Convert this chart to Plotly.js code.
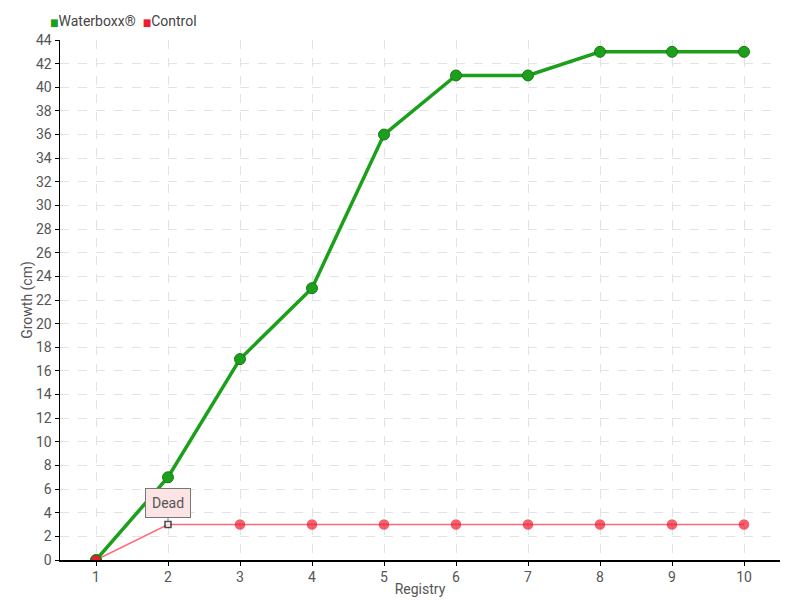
<!DOCTYPE html>
<html>
<head>
<meta charset="utf-8">
<script src="https://cdn.plot.ly/plotly-3.0.1.min.js"></script>
<style>html,body{margin:0;padding:0;background:#fff;}#chart{width:800px;height:600px;}</style>
</head>
<body>
<div id="chart"></div>
<script>
const registry = [1,2,3,4,5,6,7,8,9,10];
const waterboxx = [0,7,17,23,36,41,41,43,43,43];
const control = [0,3,3,3,3,3,3,3,3,3];
const yTicks = [0,2,4,6,8,10,12,14,16,18,20,22,24,26,28,30,32,34,36,38,40,42,44];
const seriesNames = ['Waterboxx®', 'Control'];
const deadIndex = 1;

const font = "Roboto, 'DejaVu Sans Condensed', sans-serif";
const green = '#1ca01c', red = '#ee1c2e';
const ctrlSymbols = control.map((v,i)=> i===deadIndex ? 'square' : 'circle');
const ctrlColors = control.map((v,i)=> i===deadIndex ? '#ffffff' : red);
const ctrlLineColors = control.map((v,i)=> i===deadIndex ? '#000000' : red);
const ctrlSizes = control.map((v,i)=> i===deadIndex ? 6 : 9);

const traces = [
  {x: registry, y: control, mode: 'lines+markers', showlegend: false,
   line: {color: '#ff6a7a', width: 1.5},
   marker: {color: ctrlColors, symbol: ctrlSymbols, size: ctrlSizes, line: {color: ctrlLineColors, width: 1.5}}},
  {x: registry, y: waterboxx, mode: 'lines+markers', showlegend: false,
   line: {color: green, width: 3.5},
   marker: {color: green, size: 11, line: {color: '#167a16', width: 1}}},
  {x: registry.slice(0,1), y: control.slice(0,1), mode: 'markers', showlegend: false,
   marker: {color: red, size: 10, line: {color: '#1a7a1a', width: 1}}}
];

const legendText = '<span style="color:' + green + ';font-size:10px">■</span>' + seriesNames[0] +
  '&nbsp;&nbsp;<span style="color:' + red + ';font-size:10px">■</span>' + seriesNames[1];

const layout = {
  width: 800, height: 600,
  margin: {l: 60, r: 20, t: 40, b: 40},
  paper_bgcolor: '#ffffff', plot_bgcolor: '#ffffff',
  font: {family: font, size: 14, color: '#555555'},
  showlegend: false,
  xaxis: {
    range: [0.5, 10.5], tickvals: registry, ticktext: registry.map(String),
    showgrid: true, gridcolor: '#e3e3e3', griddash: 'dash', gridwidth: 1,
    showline: true, linecolor: '#000000', linewidth: 1.5,
    ticks: 'outside', ticklen: 4, tickcolor: '#000000',
    zeroline: false, fixedrange: true, automargin: false,
    title: {text: 'Registry', font: {family: font, size: 14, color: '#555555'}, standoff: 0}
  },
  yaxis: {
    range: [0, 44], tickvals: yTicks, ticktext: yTicks.map(String),
    showgrid: true, gridcolor: '#e3e3e3', griddash: 'dash', gridwidth: 1,
    showline: true, linecolor: '#000000', linewidth: 1.5,
    ticks: 'outside', ticklen: 4, tickcolor: '#000000',
    zeroline: false, fixedrange: true, automargin: false,
    title: {text: 'Growth (cm)', font: {family: font, size: 14, color: '#555555'}, standoff: 0}
  },
  annotations: [{
    x: registry[deadIndex], y: control[deadIndex], xref: 'x', yref: 'y',
    text: 'Dead', showarrow: true, ax: 0, ay: -22, arrowhead: 0, arrowwidth: 1, arrowcolor: '#777777', standoff: 3,
    bgcolor: '#fde4e4', bordercolor: '#777777', borderwidth: 1, borderpad: 6,
    font: {family: font, size: 14, color: '#555555'}
  }, {
    xref: 'paper', yref: 'paper', x: -0.017, y: 1.0, yshift: 19, xanchor: 'left', yanchor: 'middle',
    text: legendText, showarrow: false,
    font: {family: font, size: 14, color: '#444444'}
  }]
};

Plotly.newPlot('chart', traces, layout, {displayModeBar: false, staticPlot: true});
</script>
</body>
</html>
